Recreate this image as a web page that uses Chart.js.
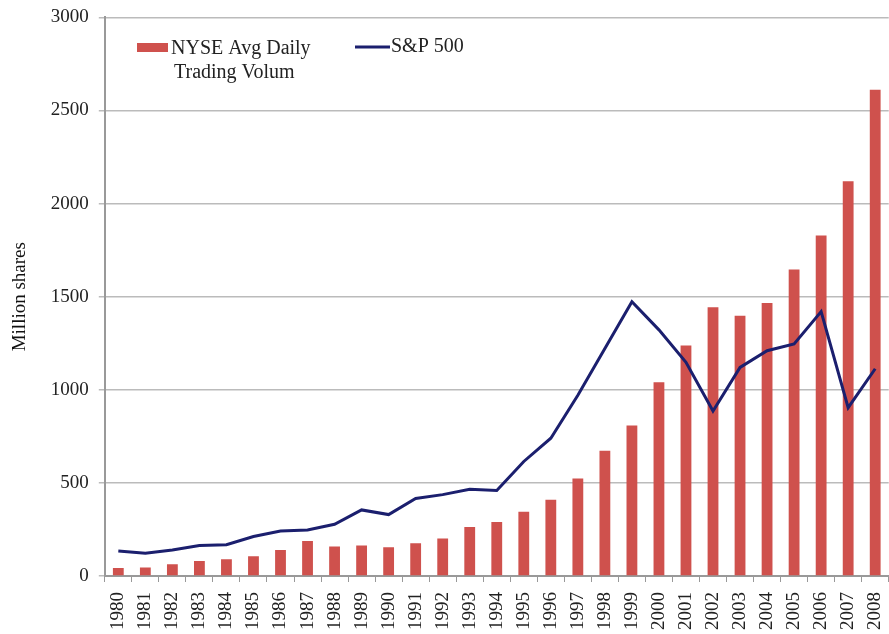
<!DOCTYPE html>
<html>
<head>
<meta charset="utf-8">
<script src="https://cdn.jsdelivr.net/npm/chart.js@4"></script>
<style>
  html, body { margin: 0; padding: 0; background: #fff; overflow: hidden; }
  /* the original picture is cropped on the right and top, so the canvas is a bit larger than the window */
  #wrap { width: 908px; height: 638px; margin-top: -4px; }
</style>
</head>
<body>
<div id="wrap"><canvas id="volChart"></canvas></div>
<script>
// data
const years = ['1980','1981','1982','1983','1984','1985','1986','1987','1988','1989',
  '1990','1991','1992','1993','1994','1995','1996','1997','1998','1999',
  '2000','2001','2002','2003','2004','2005','2006','2007','2008'];
const nyseVolume = [43, 46, 63, 80, 90, 106, 140, 188, 158, 164,
  155, 176, 202, 263, 290, 345, 410, 523, 672, 808,
  1040, 1238, 1443, 1398, 1466, 1646, 1829, 2120, 2611];
const sp500 = [134, 122, 140, 164, 168, 212, 242, 247, 278, 355,
  330, 416, 437, 466, 459, 615, 740, 971, 1222, 1473,
  1322, 1148, 886, 1120, 1210, 1246, 1420, 904, 1113];
const yTicks = [0, 500, 1000, 1500, 2000, 2500, 3000];

const serif = "'Liberation Serif', 'Times New Roman', serif";
const barColor = '#CF514D';
const lineColor = '#1B1F6E';

// legend drawn inside the plot, as in the original
const legendPlugin = {
  id: 'innerLegend',
  afterDraw(chart) {
    const c = chart.ctx;
    c.save();
    c.translate(0, 4);
    c.fillStyle = barColor;
    c.fillRect(137, 43, 31, 9);
    c.strokeStyle = lineColor;
    c.lineWidth = 3;
    c.beginPath();
    c.moveTo(355, 47);
    c.lineTo(390, 47);
    c.stroke();
    c.fillStyle = '#222';
    c.font = '20px ' + serif;
    c.textBaseline = 'middle';
    c.fillText('NYSE Avg Daily', 171, 49);
    c.fillText('Trading Volum', 174, 73);
    c.fillText('S&P 500', 391, 47);
    c.restore();
  }
};

const ctx = document.getElementById('volChart').getContext('2d');
new Chart(ctx, {
  type: 'bar',
  data: {
    labels: years,
    datasets: [
      {
        type: 'line', label: 'S&P 500', data: sp500,
        borderColor: lineColor, borderWidth: 3, pointRadius: 0,
        tension: 0, order: 0
      },
      {
        label: 'NYSE Avg Daily Trading Volum', data: nyseVolume,
        backgroundColor: barColor, barPercentage: 0.8, categoryPercentage: 0.5,
        order: 1
      }
    ]
  },
  options: {
    responsive: true,
    maintainAspectRatio: false,
    animation: false,
    layout: { padding: { top: 4, right: 0, left: 5, bottom: -6 } },
    plugins: {
      legend: { display: false },
      tooltip: { enabled: false }
    },
    scales: {
      x: {
        grid: { display: true, drawOnChartArea: false, offset: true, color: '#999', tickLength: 6 },
        border: { color: '#999', width: 2 },
        ticks: {
          minRotation: 90, maxRotation: 90, padding: 10, color: '#222',
          font: { family: serif, size: 19 }
        }
      },
      y: {
        min: 0, max: 3000,
        afterBuildTicks(axis) { axis.ticks = yTicks.map(v => ({ value: v })); },
        grid: { color: '#bbb', lineWidth: 1.5, tickLength: 6 },
        border: { color: '#999', width: 2 },
        ticks: {
          padding: 10, color: '#222', font: { family: serif, size: 19 },
          callback: v => String(v)
        },
        title: {
          display: true, text: 'Million shares', color: '#111',
          font: { family: serif, size: 19 }, padding: { top: 4, bottom: 9 }
        }
      }
    }
  },
  plugins: [legendPlugin]
});
</script>
</body>
</html>
